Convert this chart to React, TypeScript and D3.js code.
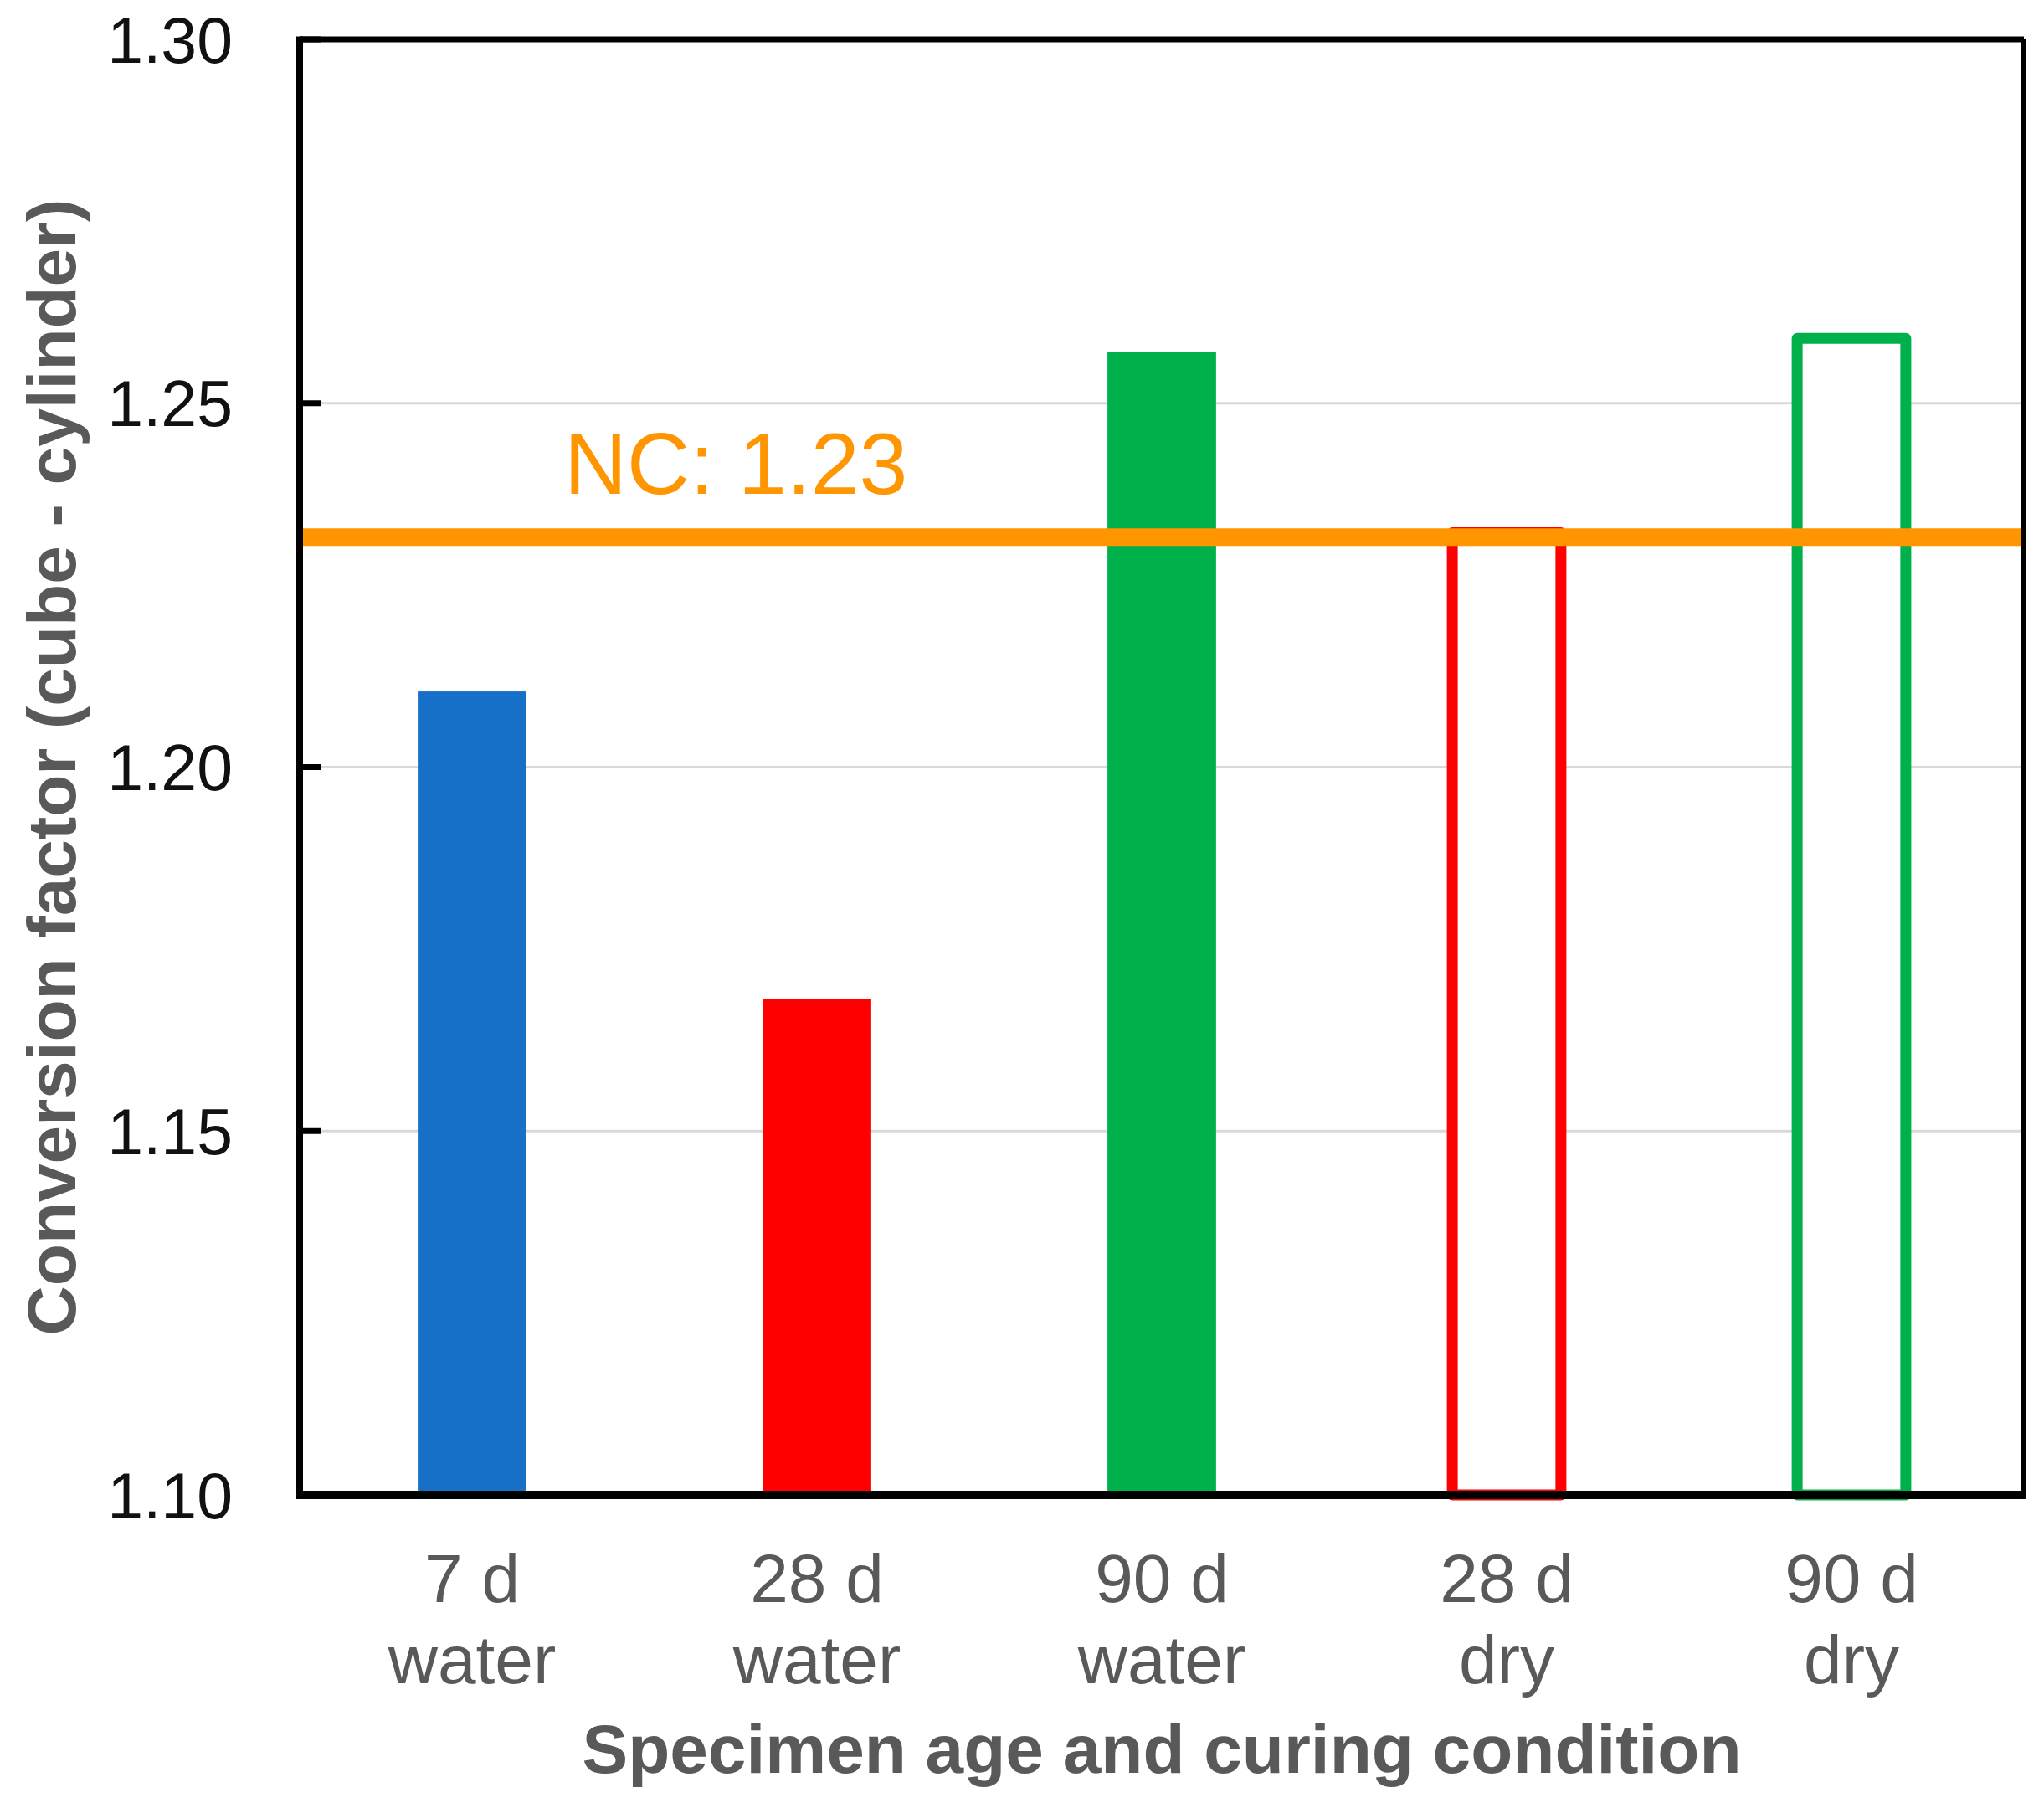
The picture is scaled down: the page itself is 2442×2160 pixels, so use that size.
import * as d3 from 'd3';

/**
 * Conversion factor bar chart
 *
 * Cube-to-cylinder conversion factor by specimen age and curing condition
 */

const categories = ['7 d|water', '28 d|water', '90 d|water', '28 d|dry', '90 d|dry'];
const values = [1.2104, 1.1682, 1.257, 1.2322, 1.2589];
const fillColors = ['#1670c7', '#ff0000', '#00b04a', 'none', 'none'];
const strokeColors = ['none', 'none', 'none', '#ff0000', '#00b04a'];
const yTicks = [1.1, 1.15, 1.2, 1.25, 1.3];
const ncValue = 1.2316;
const ncLabel = 'NC: 1.23';

const width = 2442;
const height = 2160;
const margin = { top: 47, right: 24, bottom: 374, left: 358 };
const font = '"Liberation Sans", Arial, Helvetica, sans-serif';

export default function App() {
  const innerRight = width - margin.right;
  const innerBottom = height - margin.bottom;

  // Scales
  const xScale = d3
    .scaleBand()
    .domain(categories)
    .range([margin.left, innerRight])
    .paddingInner(0.685)
    .paddingOuter(0.3425);

  const yScale = d3.scaleLinear().domain([1.1, 1.3]).range([innerBottom, margin.top]);

  const ncY = yScale(ncValue);
  const hollowStroke = 13;

  return (
    <svg
      width={width}
      height={height}
      style={{ position: 'absolute', left: 0, top: 0, background: '#fff' }}
    >
      {/* Grid lines */}
      {yTicks
        .filter((t) => t > 1.1 && t < 1.3)
        .map((t) => (
          <line
            key={`grid-${t}`}
            x1={margin.left}
            x2={innerRight}
            y1={yScale(t)}
            y2={yScale(t)}
            stroke="#d9d9d9"
            strokeWidth={3}
          />
        ))}

      {/* Bars */}
      {categories.map((c, i) => {
        const x = xScale(c) || 0;
        const y = yScale(values[i]);
        const hollow = fillColors[i] === 'none';
        return (
          <rect
            key={c}
            x={x}
            y={y}
            width={xScale.bandwidth()}
            height={innerBottom - y}
            fill={hollow ? '#ffffff' : fillColors[i]}
            stroke={strokeColors[i]}
            strokeWidth={hollow ? hollowStroke : 0}
            strokeLinejoin="round"
          />
        );
      })}

      {/* NC reference line */}
      <line
        x1={margin.left}
        x2={innerRight}
        y1={ncY}
        y2={ncY}
        stroke="#ff9500"
        strokeWidth={21}
      />
      <text
        x={674}
        y={ncY - 52}
        fill="#ff9500"
        fontFamily={font}
        fontSize={104}
      >
        {ncLabel}
      </text>

      {/* Frame */}
      <line x1={margin.left} x2={innerRight} y1={margin.top} y2={margin.top} stroke="#000" strokeWidth={7} />
      <line x1={innerRight} x2={innerRight} y1={margin.top} y2={innerBottom} stroke="#000" strokeWidth={6} />
      <line x1={margin.left} x2={margin.left} y1={margin.top - 3.5} y2={innerBottom + 5} stroke="#000" strokeWidth={8} />
      <line x1={margin.left - 4} x2={innerRight + 3} y1={innerBottom} y2={innerBottom} stroke="#000" strokeWidth={10} />

      {/* Y ticks and labels */}
      {yTicks.map((t) => (
        <g key={`tick-${t}`}>
          <line
            x1={margin.left}
            x2={margin.left + 25}
            y1={yScale(t)}
            y2={yScale(t)}
            stroke="#000"
            strokeWidth={7}
          />
          <text
            x={margin.left - 80}
            y={yScale(t)}
            dy="0.36em"
            textAnchor="end"
            fill="#111"
            fontFamily={font}
            fontSize={77}
          >
            {t.toFixed(2)}
          </text>
        </g>
      ))}

      {/* X labels */}
      {categories.map((c) => {
        const cx = (xScale(c) || 0) + xScale.bandwidth() / 2;
        const [age, cond] = c.split('|');
        return (
          <text
            key={`lab-${c}`}
            textAnchor="middle"
            fill="#595959"
            fontFamily={font}
            fontSize={82}
          >
            <tspan x={cx} y={1914}>
              {age}
            </tspan>
            <tspan x={cx} y={2011}>
              {cond}
            </tspan>
          </text>
        );
      })}

      {/* Axis titles */}
      <text
        x={(margin.left + innerRight) / 2}
        y={2118}
        textAnchor="middle"
        fill="#595959"
        fontFamily={font}
        fontWeight="bold"
        fontSize={82}
      >
        Specimen age and curing condition
      </text>
      <text
        transform={`translate(90, ${(margin.top + innerBottom) / 2}) rotate(-90)`}
        textAnchor="middle"
        fill="#595959"
        fontFamily={font}
        fontWeight="bold"
        fontSize={82}
      >
        Conversion factor (cube - cylinder)
      </text>
    </svg>
  );
}
